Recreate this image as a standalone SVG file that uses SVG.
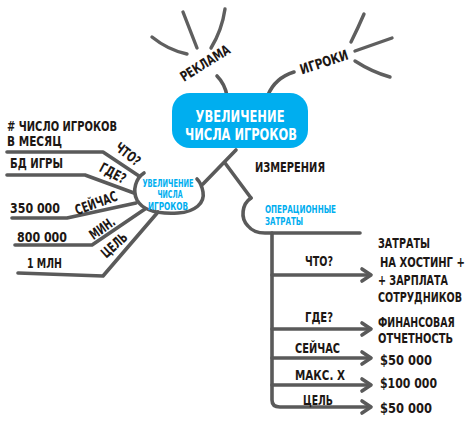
<svg xmlns="http://www.w3.org/2000/svg" width="473" height="423" viewBox="0 0 473 423">
<defs>
<style>
.ln{fill:none;stroke:#5a5a5a;stroke-width:3.6;stroke-linecap:round;stroke-linejoin:round}
.ray{fill:none;stroke:#5f5f5f;stroke-width:3.4;stroke-linecap:round}
.t{font-family:"DejaVu Sans Condensed","Liberation Sans",sans-serif;font-stretch:condensed;font-weight:bold;font-size:14px;fill:#1d1714}
.tb{font-family:"DejaVu Sans Condensed","Liberation Sans",sans-serif;font-stretch:condensed;font-weight:bold;font-size:10px;fill:#00aeef}
.tw{font-family:"DejaVu Sans Condensed","Liberation Sans",sans-serif;font-stretch:condensed;font-weight:bold;font-size:16px;fill:#ffffff}
</style>
</defs>
<rect width="473" height="423" fill="#ffffff"/>
<g id="connectors">
<path class="ln" d="M227,96 Q225,84 217,76"/>
<path class="ray" d="M152,37 Q168,50 187,54"/>
<path class="ray" d="M183,12 Q190,30 197,48"/>
<path class="ray" d="M225,9 Q222,30 211,48"/>
<path class="ln" d="M268,95 Q275,78 294,72"/>
<path class="ray" d="M364,14 Q358,28 351,42"/>
<path class="ray" d="M355,51 Q375,44 392,38"/>
<path class="ray" d="M355,61 Q372,72 390,77"/>
<path class="ln" d="M236,150 L203,184"/>
<path class="ln" d="M225,163 L251,198"/>
<path class="ln" d="M7,152 L103,152 L139,176"/>
<path class="ln" d="M7,175 L85,175 L134,193"/>
<path class="ln" d="M12,218 L67,218 L136,203"/>
<path class="ln" d="M15,245 L92,245 L145,209"/>
<path class="ln" d="M18,273 L103,276 L158,212"/>
<path class="ln" d="M272,233 L272,400 Q272,407 280,407 L370,407"/>
<path class="ln" d="M272,275 L370,275 M272,329 L370,329 M272,358 L370,358 M272,385 L370,385"/>
<path class="ln" d="M362,269 L371,275 L362,281 M362,323 L371,329 L362,335 M362,352 L371,358 L362,364 M362,379 L371,385 L362,391 M362,401 L371,407 L362,413"/>
</g>
<g id="center">
<rect x="172" y="93" width="136" height="55" rx="18" fill="#00aeef"/>
<text class="tw" x="240" y="122" text-anchor="middle" textLength="89" lengthAdjust="spacingAndGlyphs">УВЕЛИЧЕНИЕ</text>
<text class="tw" x="241" y="140" text-anchor="middle" textLength="112" lengthAdjust="spacingAndGlyphs">ЧИСЛА ИГРОКОВ</text>
</g>
<g id="reklama">
<text class="t" transform="translate(205,63) rotate(-32)" x="0" y="5" text-anchor="middle" textLength="56" lengthAdjust="spacingAndGlyphs">РЕКЛАМА</text>
</g>
<g id="igroki">
<text class="t" transform="translate(324,62) rotate(-18)" x="0" y="5" text-anchor="middle" textLength="50" lengthAdjust="spacingAndGlyphs">ИГРОКИ</text>
</g>
<g id="left-node">
<path class="ln" d="M144,173 C136,178 132,190 137,200 C143,211 160,214 178,213 C195,212 205,203 203,192 C202,186 200,182 197,179"/>
<text class="tb" x="168" y="187" text-anchor="middle" textLength="51" lengthAdjust="spacingAndGlyphs">УВЕЛИЧЕНИЕ</text>
<text class="tb" x="170" y="198" text-anchor="middle" textLength="25" lengthAdjust="spacingAndGlyphs">ЧИСЛА</text>
<text class="tb" x="168" y="210" text-anchor="middle" textLength="40" lengthAdjust="spacingAndGlyphs">ИГРОКОВ</text>
</g>
<g id="left-labels">
<text class="t" x="7" y="131" textLength="110" lengthAdjust="spacingAndGlyphs"># ЧИСЛО ИГРОКОВ</text>
<text class="t" x="7" y="146" textLength="55" lengthAdjust="spacingAndGlyphs">В МЕСЯЦ</text>
<text class="t" x="10" y="168" textLength="53" lengthAdjust="spacingAndGlyphs">БД ИГРЫ</text>
<text class="t" x="10" y="213" textLength="50" lengthAdjust="spacingAndGlyphs">350 000</text>
<text class="t" x="17" y="242" textLength="50" lengthAdjust="spacingAndGlyphs">800 000</text>
<text class="t" x="27" y="268" textLength="35" lengthAdjust="spacingAndGlyphs">1 МЛН</text>
<text class="t" transform="translate(128,154) rotate(38)" x="0" y="5" text-anchor="middle" textLength="28" lengthAdjust="spacingAndGlyphs">ЧТО?</text>
<text class="t" transform="translate(113,173) rotate(28)" x="0" y="5" text-anchor="middle" textLength="28" lengthAdjust="spacingAndGlyphs">ГДЕ?</text>
<text class="t" transform="translate(96,203) rotate(-20)" x="0" y="5" text-anchor="middle" textLength="44" lengthAdjust="spacingAndGlyphs">СЕЙЧАС</text>
<text class="t" transform="translate(102,228) rotate(-35)" x="0" y="5" text-anchor="middle" textLength="28" lengthAdjust="spacingAndGlyphs">МИН.</text>
<text class="t" transform="translate(114,245) rotate(-42)" x="0" y="5" text-anchor="middle" textLength="30" lengthAdjust="spacingAndGlyphs">ЦЕЛЬ</text>
</g>
<g id="izmereniya">
<text class="t" x="255" y="172" textLength="70" lengthAdjust="spacingAndGlyphs">ИЗМЕРЕНИЯ</text>
</g>
<g id="opex-node">
<path class="ln" d="M251,198 C242,204 240,218 248,226 C252,231 258,233 265,233 L360,233"/>
<text class="tb" x="265" y="213" textLength="71" lengthAdjust="spacingAndGlyphs">ОПЕРАЦИОННЫЕ</text>
<text class="tb" x="265" y="225" textLength="38" lengthAdjust="spacingAndGlyphs">ЗАТРАТЫ</text>
</g>
<g id="right-labels">
<text class="t" x="305" y="266" textLength="28" lengthAdjust="spacingAndGlyphs">ЧТО?</text>
<text class="t" x="378" y="248" textLength="52" lengthAdjust="spacingAndGlyphs">ЗАТРАТЫ</text>
<text class="t" transform="scale(0.8 1)" x="475" y="267" textLength="106" lengthAdjust="spacingAndGlyphs">НА ХОСТИНГ +</text>
<text class="t" x="378" y="285" textLength="70" lengthAdjust="spacingAndGlyphs">+ ЗАРПЛАТА</text>
<text class="t" transform="scale(0.8 1)" x="472.5" y="302" textLength="105" lengthAdjust="spacingAndGlyphs">СОТРУДНИКОВ</text>
<text class="t" x="305" y="322" textLength="28" lengthAdjust="spacingAndGlyphs">ГДЕ?</text>
<text class="t" transform="scale(0.8 1)" x="472.5" y="327" textLength="96" lengthAdjust="spacingAndGlyphs">ФИНАНСОВАЯ</text>
<text class="t" x="378" y="343" textLength="75" lengthAdjust="spacingAndGlyphs">ОТЧЕТНОСТЬ</text>
<text class="t" x="295" y="353" textLength="45" lengthAdjust="spacingAndGlyphs">СЕЙЧАС</text>
<text class="t" x="380" y="365" textLength="52" lengthAdjust="spacingAndGlyphs">$50 000</text>
<text class="t" x="295" y="380" textLength="50" lengthAdjust="spacingAndGlyphs">МАКС. X</text>
<text class="t" x="380" y="388" textLength="57" lengthAdjust="spacingAndGlyphs">$100 000</text>
<text class="t" x="303" y="405" textLength="30" lengthAdjust="spacingAndGlyphs">ЦЕЛЬ</text>
<text class="t" x="380" y="413" textLength="52" lengthAdjust="spacingAndGlyphs">$50 000</text>
</g>
</svg>
